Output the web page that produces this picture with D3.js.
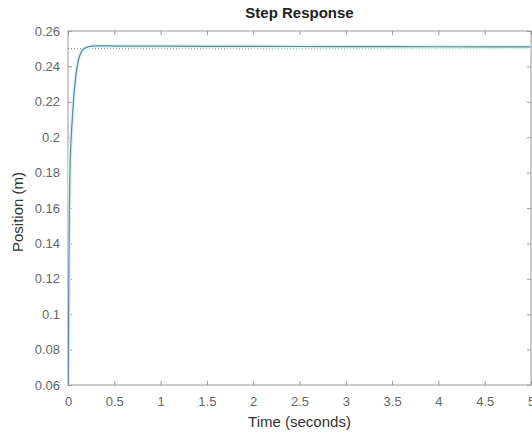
<!DOCTYPE html>
<html>
<head>
<meta charset="utf-8">
<script src="https://cdn.jsdelivr.net/npm/d3@7"></script>
<style>
  body { margin: 0; background: #fff; }
  svg { display: block; font-family: "Liberation Sans", Arial, sans-serif; }
  .tick text { fill: #666; font-size: 13px; }
  .tick line { stroke: #999; }
</style>
</head>
<body>
<svg id="chart" width="532" height="434"></svg>
<script>
// step response samples (time in s, position in m)
var times = [0, 0.005, 0.01, 0.015, 0.02, 0.03, 0.04, 0.05, 0.06, 0.075, 0.093, 0.11, 0.13, 0.155, 0.18, 0.22, 0.26, 0.35, 0.5, 1, 2, 3, 4, 5];
var positions = [0, 0.08, 0.13, 0.16, 0.178, 0.195, 0.205, 0.213, 0.221, 0.23, 0.238, 0.243, 0.2465, 0.249, 0.2502, 0.2511, 0.2515, 0.2516, 0.2515, 0.2514, 0.2513, 0.2512, 0.2511, 0.251];
var finalValue = 0.25;
var xTicks = [0, 0.5, 1, 1.5, 2, 2.5, 3, 3.5, 4, 4.5, 5];
var yTicks = [0.06, 0.08, 0.1, 0.12, 0.14, 0.16, 0.18, 0.2, 0.22, 0.24, 0.26];

var svg = d3.select("#chart");
var pLeft = 68, pRight = 531, pTop = 31, pBottom = 385;

var x = d3.scaleLinear().domain([0, 5]).range([pLeft, pRight]);
var y = d3.scaleLinear().domain([0.06, 0.26]).range([pBottom, pTop]);

svg.append("clipPath").attr("id", "clip")
  .append("rect").attr("x", pLeft).attr("y", pTop).attr("width", pRight - pLeft).attr("height", pBottom - pTop);

// axes with inward ticks
var fmt = function(d) { return String(d); };
svg.append("g").attr("transform", "translate(0," + pBottom + ")")
  .call(d3.axisBottom(x).tickValues(xTicks).tickFormat(fmt).tickSizeInner(-4).tickSizeOuter(0).tickPadding(12));
svg.append("g").attr("transform", "translate(" + pLeft + ",0)")
  .call(d3.axisLeft(y).tickValues(yTicks).tickFormat(fmt).tickSizeInner(-4).tickSizeOuter(0).tickPadding(8));
svg.append("g").attr("transform", "translate(0," + pTop + ")")
  .call(d3.axisTop(x).tickValues(xTicks).tickFormat("").tickSizeInner(-4).tickSizeOuter(0));
svg.append("g").attr("transform", "translate(" + pRight + ",0)")
  .call(d3.axisRight(y).tickValues(yTicks).tickFormat("").tickSizeInner(-4).tickSizeOuter(0));
svg.selectAll(".domain").remove();

// box
svg.append("rect")
  .attr("x", pLeft).attr("y", pTop).attr("width", pRight - pLeft).attr("height", pBottom - pTop)
  .attr("fill", "none").attr("stroke", "#999").attr("stroke-width", 1);

// steady state dotted line
svg.append("line")
  .attr("x1", x(0)).attr("x2", x(5)).attr("y1", y(finalValue)).attr("y2", y(finalValue))
  .attr("stroke", "#7a878c").attr("stroke-width", 1).attr("stroke-dasharray", "1,2");

var pts = times.map(function(t, i) { return [t, positions[i]]; });
var line = d3.line().x(function(d) { return x(d[0]); }).y(function(d) { return y(d[1]); }).curve(d3.curveMonotoneX);

// faint halo + response curve
svg.append("path").datum(pts).attr("clip-path", "url(#clip)")
  .attr("d", line).attr("fill", "none").attr("stroke", "#dff3f4").attr("stroke-width", 4);
svg.append("path").datum(pts).attr("clip-path", "url(#clip)")
  .attr("d", line).attr("fill", "none").attr("stroke", "#5a8a9c").attr("stroke-width", 1.2);

// titles
svg.append("text").attr("x", (pLeft + pRight) / 2).attr("y", 18).attr("text-anchor", "middle")
  .attr("font-size", "15px").attr("font-weight", "bold").attr("fill", "#222").text("Step Response");
svg.append("text").attr("x", (pLeft + pRight) / 2).attr("y", 427).attr("text-anchor", "middle")
  .attr("font-size", "15px").attr("fill", "#333").text("Time (seconds)");
svg.append("text").attr("transform", "translate(23," + ((pTop + pBottom) / 2 + 4) + ") rotate(-90)")
  .attr("text-anchor", "middle").attr("font-size", "15px").attr("fill", "#333").text("Position (m)");
</script>
</body>
</html>
